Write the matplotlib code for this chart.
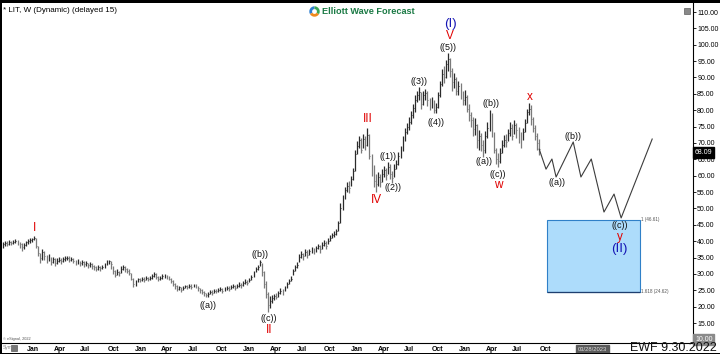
import numpy as np
import pandas as pd
import matplotlib
matplotlib.use('Agg')
import matplotlib.pyplot as plt
import matplotlib.dates as mdates
from matplotlib.patches import Rectangle, Wedge

plt.rcParams['font.family'] = ['Liberation Sans', 'DejaVu Sans']

# ---------------- data ----------------
start_date = '2017-10-13'   # first weekly bar

highs = [
    39.8, 40.0, 40.0, 40.4, 40.2, 40.5, 40.7, 40.4, 39.9, 39.3,
    39.4, 40.1, 40.6, 40.9, 41.1, 41.6, 41.0, 38.6, 36.5, 37.5,
    37.0, 35.8, 36.0, 35.3, 35.3, 34.8, 34.8, 35.2, 34.8, 35.3,
    35.5, 35.6, 35.4, 35.2, 34.8, 34.3, 34.5, 34.0, 34.2, 33.8,
    33.9, 33.4, 33.6, 33.2, 32.8, 32.5, 32.7, 32.4, 32.8, 33.3,
    34.1, 34.3, 34.0, 32.5, 31.2, 31.4, 31.0, 32.3, 32.7, 32.4,
    31.8, 31.5, 30.4, 28.9, 28.2, 28.9, 28.8, 29.1, 29.0, 29.3,
    29.1, 29.5, 30.0, 30.7, 30.4, 29.4, 29.5, 29.9, 29.9, 29.8,
    29.3, 28.8, 28.0, 27.2, 26.6, 26.3, 26.0, 26.2, 26.7, 26.6,
    26.8, 26.8, 27.0, 26.9, 26.4, 25.8, 25.3, 24.9, 24.3, 24.5,
    25.1, 25.0, 25.3, 25.3, 25.6, 25.9, 25.7, 26.1, 26.4, 26.2,
    26.5, 26.8, 26.6, 27.0, 27.4, 27.2, 27.8, 28.3, 28.1, 28.9,
    29.6, 30.8, 32.1, 32.7, 34.4, 33.2, 30.8, 27.8, 24.6, 23.4,
    23.6, 24.0, 24.2, 24.9, 25.6, 25.4, 26.3, 27.5, 28.6, 29.3,
    31.5, 32.8, 33.6, 36.1, 36.9, 36.3, 37.5, 37.2, 37.7, 38.2,
    38.0, 38.5, 39.2, 38.8, 39.6, 40.3, 40.0, 41.0, 41.8, 42.6,
    43.2, 43.8, 46.3, 51.8, 54.0, 56.5, 58.0, 58.4, 60.0, 62.5,
    67.8, 70.5, 72.0, 71.5, 72.8, 72.2, 74.6, 72.8, 66.5, 63.2,
    60.5, 61.2, 60.6, 62.0, 63.0, 62.5, 64.2, 63.5, 61.5, 63.6,
    64.8, 67.2, 69.0, 72.2, 74.6, 76.2, 77.8, 79.8, 81.8, 84.5,
    86.0, 87.2, 85.6, 85.8, 86.4, 85.8, 83.6, 84.0, 83.2, 82.2,
    85.5, 89.0, 92.5, 93.5, 95.2, 97.5, 96.0, 92.8, 91.5, 90.2,
    89.0, 88.2, 86.0, 86.2, 84.5, 81.8, 79.6, 77.8, 77.6, 75.8,
    74.0, 73.0, 70.8, 73.8, 76.5, 80.0, 79.2, 73.5, 68.6, 66.8,
    68.5, 70.8, 72.4, 72.6, 74.2, 76.5, 75.8, 77.0, 76.2, 74.8,
    73.2, 74.5, 77.2, 80.5, 82.2, 81.5, 77.8, 75.5, 73.0, 71.2,
]

lows = [
    37.9, 38.6, 38.5, 38.9, 38.8, 39.1, 39.3, 38.7, 37.9, 37.0,
    37.6, 38.5, 39.2, 39.5, 39.7, 40.3, 37.8, 35.5, 33.4, 34.3,
    34.2, 33.4, 33.8, 32.8, 33.2, 32.4, 33.0, 33.6, 33.0, 33.7,
    34.0, 34.2, 33.7, 33.9, 33.2, 32.8, 33.0, 32.5, 32.7, 32.2,
    32.4, 31.9, 32.1, 31.5, 31.2, 30.9, 31.3, 31.0, 31.5, 31.9,
    32.6, 33.0, 31.6, 30.0, 29.0, 29.6, 29.4, 30.4, 31.2, 30.5,
    30.2, 29.6, 28.2, 26.0, 26.4, 27.4, 27.4, 27.8, 27.5, 28.0,
    27.8, 28.2, 28.6, 29.2, 28.4, 27.7, 28.0, 28.6, 28.9, 28.5,
    28.0, 27.2, 26.2, 25.4, 24.8, 25.1, 24.6, 25.0, 25.6, 25.3,
    25.8, 25.5, 25.9, 25.6, 24.9, 24.2, 23.9, 23.4, 22.8, 23.1,
    24.0, 23.7, 24.3, 24.1, 24.5, 24.7, 24.3, 24.9, 25.2, 24.8,
    25.3, 25.6, 25.2, 25.7, 26.0, 25.8, 26.4, 26.9, 26.6, 27.4,
    28.0, 29.2, 30.5, 31.1, 32.4, 29.4, 25.8, 22.5, 18.3, 19.6,
    21.0, 22.1, 22.2, 23.1, 23.9, 23.6, 24.8, 25.7, 27.0, 27.8,
    29.7, 30.9, 31.8, 33.6, 35.0, 34.3, 35.5, 34.8, 35.9, 36.4,
    36.0, 36.8, 37.5, 36.5, 37.7, 38.6, 37.6, 39.2, 40.1, 40.9,
    41.2, 41.8, 43.0, 45.5, 49.6, 52.8, 55.0, 54.8, 56.8, 58.6,
    61.5, 66.5, 68.5, 66.8, 68.4, 67.8, 69.2, 65.2, 60.0, 56.5,
    55.0, 56.8, 56.5, 58.0, 59.5, 58.6, 60.4, 59.0, 57.8, 59.6,
    62.0, 63.2, 65.5, 67.5, 70.5, 72.8, 74.0, 75.8, 77.6, 79.5,
    82.5, 83.0, 80.5, 81.6, 83.2, 81.2, 80.2, 80.6, 79.0, 79.2,
    80.8, 84.0, 87.5, 88.4, 89.8, 92.0, 90.0, 86.0, 86.8, 84.5,
    84.6, 83.5, 81.5, 81.6, 79.5, 76.8, 75.0, 72.0, 72.5, 68.5,
    68.0, 67.5, 65.6, 67.0, 71.5, 73.8, 71.8, 66.8, 63.5, 62.6,
    63.8, 66.8, 68.8, 68.8, 70.5, 72.0, 70.8, 72.8, 71.5, 70.0,
    68.6, 70.8, 73.2, 76.0, 78.5, 75.5, 73.2, 70.8, 67.8, 66.2,
]

closes = [
    39.0, 39.4, 39.2, 39.8, 39.5, 39.9, 40.1, 39.6, 39.0, 38.2,
    38.8, 39.6, 40.0, 40.3, 40.6, 41.1, 38.5, 36.4, 34.8, 36.6,
    35.5, 34.2, 35.2, 33.6, 34.5, 33.3, 33.9, 34.3, 33.8, 34.6,
    34.9, 35.0, 34.4, 34.7, 34.0, 33.6, 33.8, 33.2, 33.5, 33.0,
    33.2, 32.6, 32.9, 32.4, 32.0, 31.6, 32.0, 31.7, 32.2, 32.6,
    33.5, 33.8, 33.0, 30.8, 29.8, 30.6, 30.2, 31.5, 32.0, 31.4,
    31.0, 30.4, 28.6, 26.8, 27.6, 28.3, 28.0, 28.6, 28.2, 28.8,
    28.4, 28.9, 29.4, 30.1, 29.0, 28.5, 28.8, 29.3, 29.5, 29.2,
    28.6, 27.8, 26.8, 26.2, 25.5, 25.9, 25.2, 25.6, 26.2, 25.9,
    26.3, 26.1, 26.5, 26.2, 25.6, 25.0, 24.6, 24.1, 23.5, 23.9,
    24.6, 24.3, 24.9, 24.7, 25.0, 25.3, 24.9, 25.5, 25.8, 25.4,
    25.9, 26.2, 25.8, 26.4, 26.7, 26.5, 27.1, 27.6, 27.3, 28.2,
    29.0, 30.2, 31.4, 32.0, 33.6, 30.5, 27.0, 24.0, 20.5, 21.8,
    22.5, 23.4, 23.0, 24.2, 24.8, 24.5, 25.6, 26.8, 27.9, 28.6,
    30.8, 32.0, 32.8, 35.2, 36.0, 35.4, 36.6, 35.8, 36.9, 37.4,
    37.0, 37.8, 38.4, 37.5, 38.8, 39.5, 38.6, 40.2, 41.0, 41.8,
    42.2, 43.0, 45.5, 50.0, 53.0, 55.5, 57.0, 56.2, 59.0, 61.5,
    66.5, 69.0, 70.8, 68.0, 71.2, 69.5, 72.4, 66.0, 62.0, 58.5,
    57.5, 59.5, 58.2, 60.5, 61.8, 60.2, 62.8, 60.5, 59.4, 62.0,
    63.5, 66.0, 67.8, 71.0, 73.5, 74.8, 76.5, 78.5, 80.6, 83.0,
    84.8, 85.5, 82.0, 84.5, 85.2, 83.0, 81.5, 82.8, 80.2, 81.0,
    84.5, 88.0, 91.0, 90.0, 94.0, 95.5, 92.0, 88.5, 89.5, 86.0,
    87.5, 85.0, 83.2, 84.0, 80.5, 78.5, 77.0, 74.2, 75.5, 71.0,
    72.0, 69.5, 67.8, 72.0, 74.5, 78.8, 73.0, 68.0, 65.0, 64.5,
    67.0, 69.5, 71.0, 70.2, 73.0, 74.5, 72.2, 75.6, 74.0, 72.5,
    71.0, 73.5, 76.0, 79.5, 80.5, 77.2, 74.5, 72.0, 70.0, 68.09,
]

# projected path
proj_dates = ['2022-09-30', '2022-10-23', '2022-11-12', '2022-11-26', '2023-01-23',
              '2023-02-18', '2023-03-25', '2023-05-07', '2023-06-10', '2023-07-04',
              '2023-10-17']
proj_prices = [68.09, 62.0, 65.1, 59.6, 70.3, 59.6, 65.1, 48.9, 54.4, 47.1, 71.2]

# blue box (fib extension)
box_dates = ['2022-10-27', '2023-09-06']
fib_levels = [46.61, 24.62]
fib_names = ['1 (46.61)', '1.618 (24.62)']

# wave labels: text, date, price, kind
wave_labels = [
    ('I', '2018-01-26', 44.0, 'red'),
    ('((a))', '2019-09-06', 20.5, 'minor'),
    ('((b))', '2020-02-28', 35.8, 'minor'),
    ('((c))', '2020-03-30', 16.5, 'minor'),
    ('II', '2020-03-30', 12.9, 'red'),
    ('III', '2021-02-26', 77.3, 'red'),
    ('IV', '2021-03-29', 52.6, 'red'),
    ('((1))', '2021-05-07', 66.0, 'minor'),
    ('((2))', '2021-05-24', 56.5, 'minor'),
    ('((3))', '2021-08-20', 88.9, 'minor'),
    ('((4))', '2021-10-15', 76.4, 'minor'),
    ('((5))', '2021-11-26', 99.3, 'minor'),
    ('V', '2021-12-03', 102.7, 'red'),
    ('(I)', '2021-12-03', 106.3, 'blue'),
    ('((a))', '2022-03-28', 64.2, 'minor'),
    ('((b))', '2022-04-20', 82.2, 'minor'),
    ('((c))', '2022-05-13', 60.5, 'minor'),
    ('w', '2022-05-13', 57.3, 'red'),
    ('x', '2022-08-30', 84.0, 'red'),
    ('((a))', '2022-11-29', 57.8, 'minor'),
    ('((b))', '2023-01-23', 72.1, 'minor'),
    ('((c))', '2023-06-30', 44.9, 'minor'),
    ('y', '2023-06-30', 41.3, 'red'),
    ('(II)', '2023-06-27', 37.6, 'blue'),
]

price_ticks = [15, 20, 25, 30, 35, 40, 45, 50, 55, 60, 65, 70, 75, 80, 85, 90, 95, 100, 105, 110]
month_ticks = pd.date_range('2018-01-01', '2022-10-01', freq='QS')
last_price = 68.09
low_marker = 10.0
cursor_date = '2023-03-28'

# ---------------- figure ----------------
W, H = 720, 354
fig = plt.figure(figsize=(7.2, 3.54), dpi=100)
fig.patch.set_facecolor('white')
ax = fig.add_axes([1 / W, 11 / H, 692 / W, 340 / H])
ax.set_facecolor('white')

dates = pd.date_range(start_date, periods=len(closes), freq='7D')
x = mdates.date2num(dates.to_pydatetime())
hi = np.array(highs)
lo = np.array(lows)
cl = np.array(closes)
prev = np.concatenate([[cl[0]], cl[:-1]])
colors = np.where(cl >= prev, '#2b2b2b', '#7a7a7a')

ax.vlines(x, lo, hi, colors=colors, linewidth=0.9, zorder=3)
ax.hlines(cl, x, x + 3.0, colors=colors, linewidth=0.7, zorder=3)

# projection
pdx = mdates.date2num(pd.to_datetime(proj_dates).to_pydatetime())
ax.plot(pdx, proj_prices, color='#3c3c3c', linewidth=0.8, zorder=3)

# box
bx = mdates.date2num(pd.to_datetime(box_dates).to_pydatetime())
ax.add_patch(Rectangle((bx[0], fib_levels[1]), bx[1] - bx[0], fib_levels[0] - fib_levels[1],
                       facecolor='#addcfb', edgecolor='#2f80c8', linewidth=0.8, zorder=2))
ax.hlines([fib_levels[1]], bx[0], bx[1], colors='#1f3f6f', linewidth=0.9, zorder=2)
for lvl, name in zip(fib_levels, fib_names):
    ax.text(bx[1] + 3, lvl, name, fontsize=3.3, color='#555555', ha='left', va='center', zorder=4)

# labels
styles = {
    'red': dict(color='#e00000', fontsize=8.5),
    'blue': dict(color='#1414b4', fontsize=9.5),
    'minor': dict(color='#111111', fontsize=6.5),
}
for txt, d, p, kind in wave_labels:
    ax.text(mdates.date2num(pd.Timestamp(d).to_pydatetime()), p, txt, ha='center', va='center',
            zorder=5, **styles[kind])

# axes limits
ax.set_xlim(mdates.date2num(pd.Timestamp('2017-10-06').to_pydatetime()),
            mdates.date2num(pd.Timestamp('2024-03-03').to_pydatetime()))
ax.set_ylim(8.9, 112.75)

for s in ['top', 'left']:
    ax.spines[s].set_visible(False)
ax.spines['right'].set_color('black')
ax.spines['right'].set_linewidth(0.8)
ax.spines['bottom'].set_color('black')
ax.spines['bottom'].set_linewidth(0.8)

ax.yaxis.tick_right()
ax.set_yticks(price_ticks)
ax.set_yticklabels(['%.2f' % v for v in price_ticks])
ax.tick_params(axis='y', direction='out', length=2, width=0.6, pad=1, labelsize=5, colors='black')

ax.set_xticks(mdates.date2num(month_ticks.to_pydatetime()))
ax.set_xticklabels([d.strftime('%b') for d in month_ticks])
ax.tick_params(axis='x', length=0, pad=2, labelsize=5)
for lab in ax.get_xticklabels():
    lab.set_ha('left')
    lab.set_fontweight('bold')

# last price marker
ax.text(1.003, last_price, '%.2f' % last_price, transform=ax.get_yaxis_transform(),
        ha='left', va='top', fontsize=5, color='white', clip_on=False, zorder=10,
        bbox=dict(boxstyle='square,pad=0.25', fc='black', ec='black'))
ax.text(1.003, low_marker, '%.2f' % low_marker, transform=ax.get_yaxis_transform(),
        ha='left', va='center', fontsize=5, color='white', clip_on=False, zorder=10,
        bbox=dict(boxstyle='square,pad=0.25', fc='#8a8a8a', ec='#8a8a8a'))

# cursor date box
ax.text(mdates.date2num(pd.Timestamp(cursor_date).to_pydatetime()), -0.012, '03/28/2023',
        transform=ax.get_xaxis_transform(), ha='center', va='top', fontsize=4.2,
        color='#dddddd', clip_on=False, zorder=10,
        bbox=dict(boxstyle='square,pad=0.3', fc='#5a5a5a', ec='#5a5a5a'))

# ---------------- figure decorations ----------------
def fx(px):
    return px / W

def fy(py):
    return 1 - py / H

fig.text(fx(3), fy(11), '* LIT, W (Dynamic) (delayed 15)', fontsize=5.8, ha='left', va='center')
fig.text(fx(322), fy(11.5), 'Elliott Wave Forecast', fontsize=6.6, ha='left', va='center',
         color='#1b7a45', fontweight='bold')
cx, cy, r = 314.5 / 100, (H - 11.5) / 100, 0.052
for th1, th2, c in [(90, 210, '#2f7fd0'), (210, 330, '#f08a1c'), (330, 450, '#3aa655')]:
    fig.patches.append(Wedge((cx, cy), r, th1, th2, width=0.028, facecolor=c, edgecolor='none',
                             transform=fig.dpi_scale_trans, figure=fig))

fig.text(fx(717), fy(348), 'EWF 9.30.2022', fontsize=9, ha='right', va='center', color='#111111')
fig.text(fx(3), fy(339), '\u00a9 eSignal, 2022', fontsize=2.8, ha='left', va='center', color='#555555')
fig.text(fx(3), fy(348), 'Sym', fontsize=3.5, ha='left', va='center', color='#888888')
fig.patches.append(Rectangle((fx(11), fy(351)), 6 / W, 6 / H, transform=fig.transFigure,
                             facecolor='#777777', edgecolor='#444444', linewidth=0.4, figure=fig))
# small icon top right
fig.patches.append(Rectangle((fx(684), fy(14)), 6 / W, 6 / H, transform=fig.transFigure,
                             facecolor='#888888', edgecolor='#444444', linewidth=0.4, figure=fig))

# borders
fig.patches.append(Rectangle((0, fy(3)), 1, 3 / H, transform=fig.transFigure,
                             facecolor='black', edgecolor='none', figure=fig))
fig.patches.append(Rectangle((0, 0), 1.5 / W, 1, transform=fig.transFigure,
                             facecolor='black', edgecolor='none', figure=fig))
fig.patches.append(Rectangle((0, 0), 1, 1.5 / H, transform=fig.transFigure,
                             facecolor='black', edgecolor='none', figure=fig))

fig.savefig('out.png', dpi=100, facecolor='white')
